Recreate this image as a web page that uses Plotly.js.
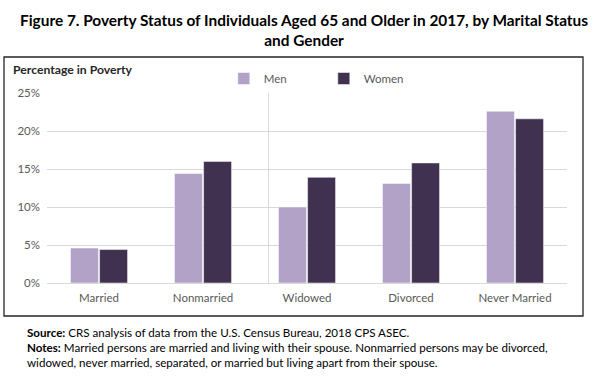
<!DOCTYPE html>
<html><head><meta charset="utf-8">
<script src="https://cdn.plot.ly/plotly-3.0.1.min.js"></script>
<style>html,body{margin:0;padding:0;background:#fff;}#chart{width:609px;height:376px;}</style>
</head><body><div id="chart"></div>
<script>
const categories = ["Married", "Nonmarried", "Widowed", "Divorced", "Never Married"];
const menValues = [4.6, 14.4, 10.0, 13.1, 22.6];
const womenValues = [4.4, 16.0, 13.9, 15.8, 21.6];
const seriesNames = ["Men", "Women"];
const yTicks = [0, 5, 10, 15, 20, 25];
const yTickText = yTicks.map(v => v + "%");

const traces = [
  {type: "bar", name: seriesNames[0], x: categories, y: menValues,
   marker: {color: "#b3a2c7", line: {color: "#ffffff", width: 0.5}}, hoverinfo: "skip"},
  {type: "bar", name: seriesNames[1], x: categories, y: womenValues,
   marker: {color: "#403151", line: {color: "#ffffff", width: 0.5}}, hoverinfo: "skip"}
];

const layout = {
  width: 609, height: 376,
  margin: {l: 47, r: 42, t: 93, b: 93},
  paper_bgcolor: "#ffffff", plot_bgcolor: "#ffffff",
  barmode: "group", bargap: 0.44, bargroupgap: 0.04,
  font: {family: "Lato, 'Open Sans', sans-serif", size: 11, color: "#595959"},
  showlegend: true,
  legend: {orientation: "h", x: 0.34, y: 1.0, xanchor: "left", yanchor: "bottom",
           font: {size: 11.5, color: "#595959"}, traceorder: "normal", entrywidth: 55},
  xaxis: {type: "category", showgrid: false, zeroline: false, showline: false, ticks: "",
          ticklabelstandoff: 6, tickfont: {size: 11.5, color: "#595959"}, fixedrange: true},
  yaxis: {range: [0, 25], tickmode: "array", tickvals: yTicks, ticktext: yTickText,
          showgrid: true, gridcolor: "#d9d9d9",
          gridwidth: 1, zeroline: true, zerolinecolor: "#d9d9d9", showline: false, ticks: "",
          ticklabelstandoff: 6, tickfont: {size: 11.5, color: "#595959"}, fixedrange: true},
  shapes: [
    {type: "rect", xref: "paper", yref: "paper", x0: -43/520, x1: 536/520, y0: -33/190, y1: 226/190,
     line: {color: "#262626", width: 1.3}, fillcolor: "rgba(0,0,0,0)"},
    {type: "line", xref: "x", yref: "y", x0: 1.63, x1: 1.63, y0: 0, y1: 25,
     line: {color: "#d9d9d9", width: 1}, layer: "below"}
  ],
  annotations: [
    {xref: "paper", yref: "paper", x: 0.5, y: 1, xanchor: "center", yanchor: "top",
     xshift: -3, yshift: 84, showarrow: false, align: "center",
     text: "<b>Figure 7. Poverty Status of Individuals Aged 65 and Older in 2017, by Marital Status<br>and Gender</b>",
     font: {family: "Lato, sans-serif", size: 15.4, color: "#000000"}},
    {xref: "paper", yref: "paper", x: -36/520, y: 1, xanchor: "left", yanchor: "bottom",
     yshift: 14, showarrow: false, text: "<b>Percentage in Poverty</b>",
     font: {family: "Lato, sans-serif", size: 12.2, color: "#262626"}},
    {xref: "paper", yref: "paper", x: -22/520, y: 0, xanchor: "left", yanchor: "top",
     yshift: -41, showarrow: false, align: "left",
     text: "<b>Source:</b> CRS analysis of data from the U.S. Census Bureau, 2018 CPS ASEC.<br><b>Notes:</b> Married persons are married and living with their spouse. Nonmarried persons may be divorced,<br>widowed, never married, separated, or married but living apart from their spouse.",
     font: {family: "Lato, sans-serif", size: 11.6, color: "#000000"}}
  ]
};

Plotly.newPlot("chart", traces, layout, {displayModeBar: false, staticPlot: true});
</script>
</body></html>
